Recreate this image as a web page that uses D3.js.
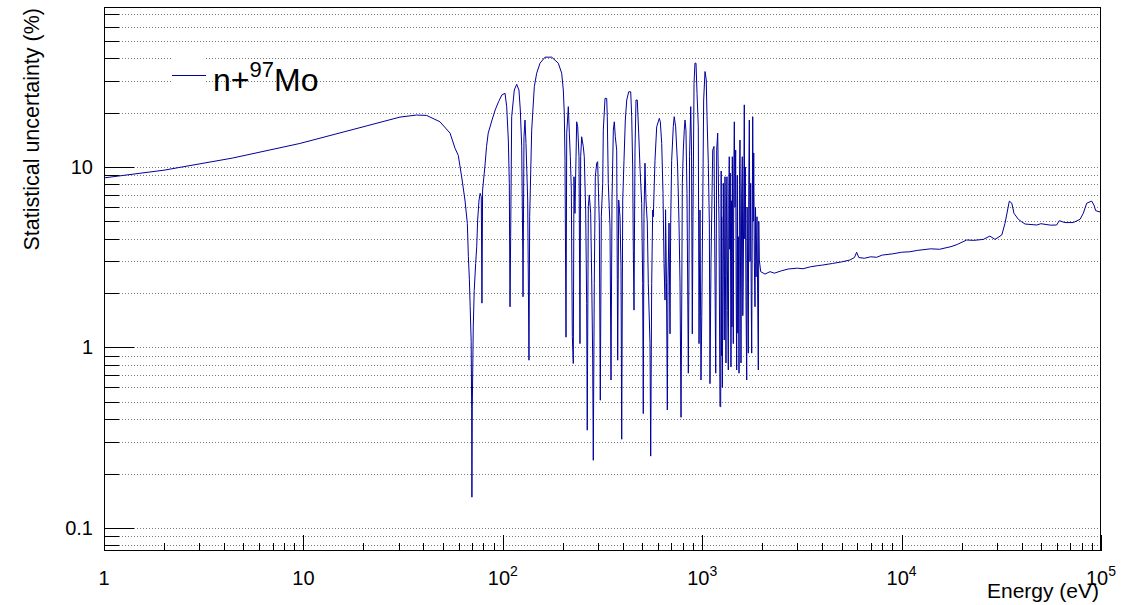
<!DOCTYPE html>
<html>
<head>
<meta charset="utf-8">
<script src="https://cdnjs.cloudflare.com/ajax/libs/d3/7.8.5/d3.min.js"></script>
<style>
  body { margin: 0; background: #fff; }
  svg { display: block; font-family: "Liberation Sans", Arial, sans-serif; }
</style>
</head>
<body>
<script>
// statistical uncertainty (%) vs neutron energy (eV)
var smoothLow = [[1,8.7],[2,9.6],[4.4,11.2],[9.6,13.5],[20.8,16.9],[30.5,18.9],[37,19.4],[41.5,19.3],
  [48.4,17.8],[54.4,15.4],[57.6,12.7],[59.8,11.6],[62.2,8.8],[64.6,6.56],[66.4,4.87],[67.2,3.18],
  [68,2.37],[68.6,1.69],[69.4,1.08],[69.8,0.46],[70,0.148],[70.3,0.47],[71.1,1.3],[71.9,2.07],
  [73.1,2.92],[74,3.62],[74.8,5.08],[76,6.56],[77,7.14],[78,6.85],[78.6,1.76],[79.2,7.45]];

var resonances1 = [[81.3,10],[82.9,13],[84.5,15.4],[88.3,18.2],[91.6,20.7],[95.2,23],[99,25.1],
  [102.6,25.6],[104.6,21.6],[106.6,14.1],[107.8,8.12],[108.7,1.68],[109.5,4.11],[110.8,19],
  [114.2,26.7],[117.4,28.7],[120.5,26.7],[122.4,20.7],[124.4,12.96],[125.9,3.46],[126.3,1.91],
  [127.7,14.7],[129.2,18.2],[130.7,13.5],[133.3,6.56],[135.3,0.85],[136.4,5.3],[139.6,16],
  [143.9,27.9],[147.9,33.1],[153.7,37.6],[162.8,40.6],[175.9,40.6],[189.8,37.6],[197.4,33.1],
  [201.1,26.7],[203.4,19.9],[205.1,10.9],[207.5,1.14],[209.2,15.4],[213.1,21.6],[215.6,15.4],
  [218.1,11.4],[220.6,7.45],[223.2,1.15],[225.7,0.815],[227.5,8.83],[230.1,5.53],[234.7,17.8],
  [237.5,16.7],[241.1,11.4],[243.8,1.05],[245.8,11.4],[248.6,14.7],[253.3,12.96],[256.2,11.4],
  [260.4,5.77],[263.4,1.75],[265.2,0.348],[268.4,6.03],[271.5,7],[275.9,5.53],[279.1,2.46],
  [282.3,0.887],[284.3,0.237],[287.6,2.26],[291,8.83],[295.7,10.5],[299,10.7],[304.8,4.9],
  [308.3,0.51],[311.9,5.3],[317,8.12],[319.2,16],[325.5,24],[331.9,24],[334.2,19],[338.1,8.12],
  [344.9,4.67],[348.9,0.66],[352.9,6.56],[358.3,16],[362.4,17.8],[366.6,14.7],[372.6,12.4],
  [375.2,2.37],[376.9,0.85],[381.3,6.56],[387,5.3],[391.6,2.8],[394.8,0.31],[399.4,6.56]];

var resonances2 = [[405.4,10.9],[411.6,18.2],[418.3,23.5],[428.1,26.1],[438,26.1],[443.1,19],
  [448.2,10],[451.4,3.46],[455,1.61],[460.3,12.4],[465.6,23.5],[472.6,23.5],[480.3,15.4],
  [487.5,10],[497.2,6.29],[502.9,2.26],[506.4,0.43],[510.4,5.3],[516.4,10.5],[522.4,6.56],
  [530.5,4.89],[536.7,2.26],[547.3,1.05],[551.7,0.25],[558.1,2.26],[564.6,5.77],[568.6,5.3],
  [579.8,10.9],[591.3,16.7],[609.4,18.6],[616.5,17.8],[626.5,13.5],[636,7.14],[643.4,2.92],
  [651,1.83],[655,5.8],[662,2.3],[668.5,0.45],[674,2.4],[681.7,4.89],[689.6,1.19],[695,5],
  [703,10.9],[716,16.7],[724,19],[736,16.7],[753,10],[765,4.89],[774,2.3],[783,0.41],[790,2],
  [795,8.12],[804,12.4],[813,16],[820,18.2],[829,16],[839,7.14],[852,0.72],[860,4],[864,11.4],
  [876,21.6],[884,12.4],[892,1.19],[899,5.3],[910,29.1],[920,37.6],[931,37.6],[942,25.6],
  [956,16.7],[964,1.05],[975,5.77],[986,0.66],[995,1.48],[1017,23.5],[1033,33.8],[1048,30.4],
  [1057,19],[1073,10.5],[1086,4.89],[1094,0.63],[1107,3],[1129,12.4],[1146,13],[1169,0.72],
  [1182,12.4],[1196,15.4],[1214,5],[1228,0.47]];

var resonances3 = [[1238,0.47],[1245,9.5],[1249,0.9],[1252,5.3],[1262,0.6],[1276,8.12],[1283,3],
  [1290,1.1],[1301,8.83],[1308,2.5],[1316,0.82],[1323,6],[1331,8.83],[1342,1.6],[1352,0.75],
  [1360,7],[1367,11.4],[1375,3.5],[1383,9.26],[1394,0.78],[1405,6.5],[1410,1.3],[1416,11.4],
  [1424,4],[1432,1.05],[1440,9],[1449,17.8],[1460,6],[1472,12.4],[1480,2.2],[1489,0.75],[1500,9],
  [1508,1.2],[1517,4.11],[1530,0.72],[1538,8],[1547,14.1],[1556,3],[1565,0.82],[1577,7],
  [1589,11.4],[1598,1.5],[1607,2.46],[1626,22.1],[1635,4],[1645,10],[1658,1.8],[1672,0.66],
  [1680,6],[1691,2.26],[1703,0.93],[1712,8],[1723,18.2],[1737,3],[1751,8.12],[1761,2],
  [1771,0.93],[1792,19],[1803,5],[1813,11.96],[1826,3],[1840,1.68],[1851,6],[1862,2.46],
  [1883,5.3],[1897,2],[1912,0.75],[1922,5],[1934,3.05],[1965,2.63]];

var smoothHigh = [[2065,2.55],[2188,2.63],[2300,2.58],[2500,2.66],[2700,2.72],[3000,2.75],
  [3200,2.73],[3500,2.8],[3800,2.84],[4000,2.86],[4500,2.92],[5000,2.98],[5500,3.05],[5800,3.15],
  [5950,3.37],[6100,3.15],[6500,3.12],[7000,3.18],[7500,3.16],[8000,3.25],[9000,3.3],[10000,3.37],
  [11000,3.39],[12000,3.45],[14000,3.52],[15500,3.5],[17700,3.62],[19000,3.72],[21200,3.94],
  [23000,3.92],[25700,3.97],[27700,4.14],[29400,3.97],[31800,4.2],[33000,4.87],[34700,6.47],
  [35700,6.3],[36600,5.54],[38500,5.13],[40000,4.97],[41600,4.83],[47600,4.77],[50000,4.85],
  [53000,4.8],[56000,4.76],[59900,4.77],[61800,5.04],[65900,4.92],[72600,4.92],[78500,5.13],
  [81500,5.54],[84800,6.3],[89800,6.47],[92200,6.15],[94000,5.73],[100000,5.61]];

var xLabels = [[1,"1",""],[10,"10",""],[100,"10","2"],[1000,"10","3"],[10000,"10","4"],[100000,"10","5"]];
var yLabels = [[0.1,"0.1"],[1,"1"],[10,"10"]];

var data = smoothLow.concat(resonances1, resonances2, resonances3, smoothHigh);

const width = 1145;
const height = 605;
const fLeft = 104, fRight = 1101, fTop = 7, fBottom = 551;
const lineColour = '#00009c';

var svg = d3.select('body').append('svg')
    .attr('width', width)
    .attr('height', height);

const xScale = d3.scaleLog().domain([1, 1e5]).range([fLeft, fRight]);
const yScale = d3.scaleLog().domain([0.0745, 77]).range([fBottom, fTop]);

// y ticks: every 1..9 x decade inside the range
var yTicks = [];
[0.01, 0.1, 1, 10].forEach(function(dec) {
    for (var k = 1; k <= 9; k++) {
        var v = dec * k;
        if (v >= 0.0745 && v <= 77) yTicks.push({v: v, major: k == 1});
    }
});
var xTicks = [];
[1, 10, 100, 1000, 10000].forEach(function(dec) {
    for (var k = 1; k <= 9; k++) xTicks.push({v: dec * k, major: k == 1});
});
xTicks.push({v: 1e5, major: true});

// horizontal dotted grid
svg.append('g').selectAll('line')
    .data(yTicks)
    .enter().append('line')
        .attr('x1', fLeft).attr('x2', fRight)
        .attr('y1', d => Math.round(yScale(d.v)) + 0.5)
        .attr('y2', d => Math.round(yScale(d.v)) + 0.5)
        .attr('stroke', '#777')
        .attr('stroke-width', 1)
        .attr('stroke-dasharray', '1,2');

// legend background patch (hides grid behind the line symbol)
svg.append('rect')
    .attr('x', 172).attr('y', 46)
    .attr('width', 34).attr('height', 58)
    .attr('fill', '#fff');

// the curve
svg.append('clipPath').attr('id', 'frameClip')
    .append('rect').attr('x', fLeft).attr('y', fTop)
    .attr('width', fRight - fLeft).attr('height', fBottom - fTop);

var line = d3.line()
    .x(d => xScale(d[0]))
    .y(d => yScale(d[1]));

svg.append('path')
    .datum(data)
    .attr('clip-path', 'url(#frameClip)')
    .attr('fill', 'none')
    .attr('stroke', lineColour)
    .attr('stroke-width', 1)
    .attr('d', line);

// ticks
var axes = svg.append('g').attr('stroke', '#000').attr('stroke-width', 1);
axes.selectAll('.yt')
    .data(yTicks)
    .enter().append('line')
        .attr('x1', fLeft)
        .attr('x2', d => fLeft + (d.major ? 30 : 15))
        .attr('y1', d => Math.round(yScale(d.v)) + 0.5)
        .attr('y2', d => Math.round(yScale(d.v)) + 0.5);
axes.selectAll('.xt')
    .data(xTicks)
    .enter().append('line')
        .attr('x1', d => Math.round(xScale(d.v)) + 0.5)
        .attr('x2', d => Math.round(xScale(d.v)) + 0.5)
        .attr('y1', fBottom)
        .attr('y2', d => fBottom - (d.major ? 16 : 8));

// frame
svg.append('rect')
    .attr('x', fLeft + 0.5).attr('y', fTop + 0.5)
    .attr('width', fRight - fLeft - 1).attr('height', fBottom - fTop - 1)
    .attr('fill', 'none')
    .attr('stroke', '#000')
    .attr('stroke-width', 1);

// tick labels
svg.selectAll('.ylab')
    .data(yLabels)
    .enter().append('text')
        .attr('x', 93)
        .attr('y', d => yScale(d[0]) + 7)
        .attr('text-anchor', 'end')
        .attr('font-size', 20)
        .text(d => d[1]);

var xl = svg.selectAll('.xlab')
    .data(xLabels)
    .enter().append('text')
        .attr('x', d => xScale(d[0]))
        .attr('y', 585)
        .attr('text-anchor', 'middle')
        .attr('font-size', 20);
xl.append('tspan').text(d => d[1]);
xl.append('tspan')
    .attr('dy', -9)
    .attr('font-size', 14)
    .text(d => d[2]);

// axis titles
svg.append('text')
    .attr('x', 1099)
    .attr('y', 598)
    .attr('text-anchor', 'end')
    .attr('font-size', 21)
    .text('Energy (eV)');

svg.append('text')
    .attr('transform', 'translate(39, 8) rotate(-90)')
    .attr('text-anchor', 'end')
    .attr('font-size', 21.5)
    .text('Statistical uncertainty (%)');

// legend
svg.append('line')
    .attr('x1', 172).attr('x2', 206)
    .attr('y1', 75.5).attr('y2', 75.5)
    .attr('stroke', lineColour)
    .attr('stroke-width', 1);
var leg = svg.append('text')
    .attr('x', 213)
    .attr('y', 91)
    .attr('font-size', 32);
leg.append('tspan').text('n+');
leg.append('tspan').attr('dy', -14).attr('font-size', 22).text('97');
leg.append('tspan').attr('dy', 14).text('Mo');
</script>
</body>
</html>
